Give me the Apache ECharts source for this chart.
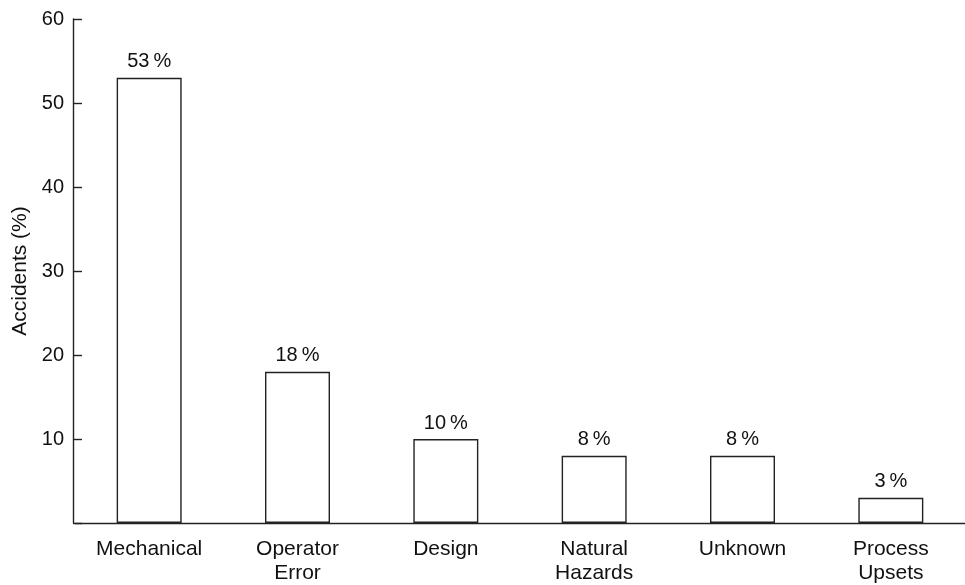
<!DOCTYPE html>
<html>
<head>
<meta charset="utf-8">
<script src="https://cdn.jsdelivr.net/npm/echarts@6/dist/echarts.min.js"></script>
<style>html,body{margin:0;padding:0;background:#fff}#c{width:965px;height:585px}</style>
</head>
<body>
<div id="c"></div>
<script>
const categories = ['Mechanical', 'Operator\nError', 'Design', 'Natural\nHazards', 'Unknown', 'Process\nUpsets'];
const accidents = [53, 18, 10, 8, 8, 3];
const yTicks = [0, 10, 20, 30, 40, 50, 60];

const chart = echarts.init(document.getElementById('c'), null, {renderer: 'canvas'});
const font = 'Liberation Sans, Arial, Helvetica, sans-serif';
chart.setOption({
  animation: false,
  backgroundColor: '#fff',
  grid: {left: 75, right: -1, top: 19, bottom: 58, containLabel: false},
  xAxis: {
    type: 'category',
    data: categories,
    boundaryGap: true,
    axisLine: {lineStyle: {color: '#222', width: 1.4}},
    axisTick: {show: false},
    axisLabel: {color: '#111', fontFamily: font, fontSize: 21, lineHeight: 24, margin: 14, interval: 0}
  },
  yAxis: {
    type: 'value',
    min: yTicks[0],
    max: yTicks[yTicks.length - 1],
    interval: 10,
    offset: 2,
    name: 'Accidents (%)',
    nameLocation: 'middle',
    nameRotate: 90,
    nameGap: 40,
    nameTextStyle: {color: '#111', fontFamily: font, fontSize: 21},
    splitLine: {show: false},
    axisLine: {show: true, lineStyle: {color: '#222', width: 1.4}},
    axisTick: {show: true, inside: true, length: 9, lineStyle: {color: '#222', width: 1.4}},
    axisLabel: {color: '#111', fontFamily: font, fontSize: 20, margin: 9,
      formatter: v => v === 0 ? '' : String(v)}
  },
  series: [{
    type: 'bar',
    data: accidents,
    barWidth: 65,
    itemStyle: {color: '#fff', borderColor: '#222', borderWidth: 1.4},
    label: {
      show: true, position: 'top', distance: 6,
      color: '#111', fontFamily: font, fontSize: 20,
      formatter: p => p.value + '\u2009%'
    }
  }]
});
</script>
</body>
</html>
